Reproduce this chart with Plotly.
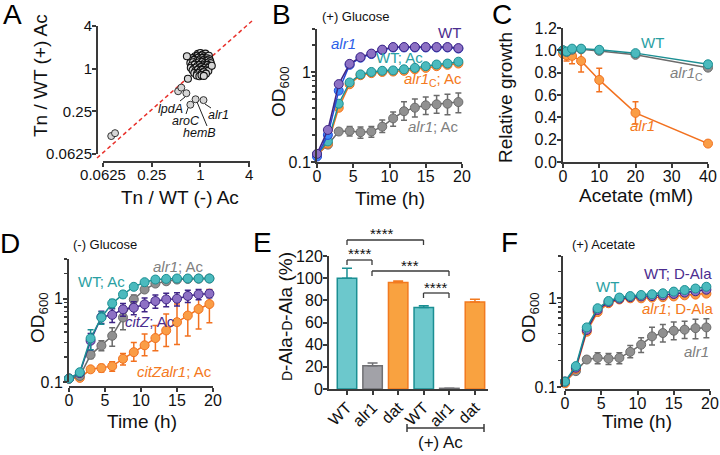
import math
import plotly.graph_objects as go

W, H = 720, 455
def PX(x): return x / W
def PY(y): return 1 - y / H

FONT = "Liberation Sans, Arial, Helvetica, sans-serif"
AXC = "#3a3a3a"

TEAL_F, TEAL_L, TEAL_T = "#4bbabe", "#1b8f93", "#2a9fa3"
PURP_F, PURP_L, PURP_T = "#8d71c4", "#3f2586", "#4b2d8f"
BLUE_F, BLUE_L, BLUE_T = "#3d8af7", "#2548d8", "#2c5ee8"
ORNG_F, ORNG_L, ORNG_T = "#fa9d46", "#f2711f", "#f47920"
GREY_F, GREY_L, GREY_T = "#909090", "#6b6b6b", "#7f7f7f"

# ---------------- data ----------------
# Panel A: Tn / WT fitness with (-) and (+) acetate
a_cluster_x = [0.93, 1.0, 1.08, 1.15,
               0.86, 0.92, 0.99, 1.05, 1.12, 1.2, 1.27,
               0.8, 0.87, 0.94, 1.01, 1.07, 1.14, 1.21, 1.29,
               0.77, 0.84, 0.9, 0.97, 1.03, 1.1, 1.17, 1.24, 1.32,
               0.75, 0.81, 0.88, 0.95, 1.01, 1.06, 1.13, 1.19, 1.26, 1.34,
               0.78, 0.85, 0.92, 0.98, 1.04, 1.11, 1.17, 1.23, 1.3,
               0.76, 0.83, 0.89, 0.96, 1.02, 1.08, 1.15, 1.21, 1.28,
               0.8, 0.87, 0.93, 1.0, 1.06, 1.12, 1.19, 1.25,
               0.84, 0.91, 0.97, 1.04, 1.1, 1.17,
               0.9, 0.97, 1.03, 1.1,
               0.68, 0.7, 1.38]
a_cluster_y = [1.62, 1.66, 1.6, 1.63,
               1.5, 1.53, 1.48, 1.54, 1.5, 1.47, 1.52,
               1.41, 1.38, 1.43, 1.39, 1.42, 1.37, 1.4, 1.36,
               1.3, 1.33, 1.28, 1.31, 1.27, 1.32, 1.29, 1.31, 1.27,
               1.2, 1.23, 1.19, 1.22, 1.18, 1.24, 1.2, 1.17, 1.22, 1.19,
               1.11, 1.14, 1.1, 1.13, 1.09, 1.12, 1.1, 1.13, 1.09,
               1.03, 1.0, 1.04, 1.01, 1.05, 1.0, 1.03, 0.99, 1.04,
               0.95, 0.93, 0.97, 0.94, 0.96, 0.92, 0.95, 0.93,
               0.87, 0.85, 0.88, 0.86, 0.89, 0.85,
               0.8, 0.78, 0.81, 0.79,
               1.5, 0.72, 1.1]
a_out_x = [0.079, 0.088, 0.53, 0.58, 0.67, 0.75, 0.87, 1.09]
a_out_y = [0.112, 0.123, 0.48, 0.54, 0.45, 0.31, 0.37, 0.36]
a_ticks = [0.0625, 0.25, 1, 4]
a_ticktext = ["0.0625", "0.25", "1", "4"]
a_genes = ["lpdA", "aroC", "hemB", "alr1"]

# Growth curves time points (h)
time_h = [0, 1.5, 3, 4.5, 6, 7.5, 9, 10.5, 12, 13.5, 15, 16.5, 18, 19.5]

# Panel B: (+) Glucose
b_wt = [0.123, 0.227, 0.733, 1.23, 1.46, 1.6, 1.77, 1.89, 1.89, 1.89, 1.89, 1.89, 1.89, 1.84]
b_alr1 = [0.115, 0.2, 0.62, 1.2, 1.44, 1.58, 1.75, 1.87, 1.87, 1.87, 1.87, 1.87, 1.87, 1.82]
b_wt_ac = [0.121, 0.169, 0.444, 0.765, 0.94, 1.0, 1.03, 1.04, 1.07, 1.11, 1.16, 1.21, 1.24, 1.3]
b_alr1c_ac = [0.118, 0.16, 0.40, 0.73, 0.92, 0.97, 1.0, 1.01, 1.03, 1.07, 1.11, 1.16, 1.2, 1.24]
b_alr1_ac = [0.121, 0.156, 0.218, 0.221, 0.214, 0.218, 0.247, 0.305, 0.366, 0.401, 0.426, 0.437, 0.444, 0.463]
b_alr1_ac_up = [0, 0.005, 0.01, 0.027, 0.03, 0.03, 0.045, 0.055, 0.1, 0.1, 0.1, 0.11, 0.12, 0.12]
b_alr1_ac_dn = [0, 0.005, 0.01, 0.027, 0.03, 0.03, 0.035, 0.055, 0.075, 0.085, 0.09, 0.09, 0.11, 0.11]

# Panel C: relative growth vs acetate
acetate_mM = [0, 1, 2.5, 5, 10, 20, 40]
c_wt = [1.0, 0.99, 1.015, 1.015, 1.005, 0.975, 0.875]
c_alr1c = [1.0, 0.985, 1.005, 1.01, 0.995, 0.96, 0.845]
c_alr1 = [0.97, 0.955, 0.95, 0.905, 0.735, 0.44, 0.165]
c_alr1_err = [0.02, 0.05, 0.07, 0.1, 0.105, 0.1, 0.01]

# Panel D: (-) Glucose, + acetate
d_wt_ac = [0.11, 0.131, 0.334, 0.595, 0.88, 1.127, 1.39, 1.58, 1.7, 1.73, 1.75, 1.75, 1.75, 1.75]
d_wt_ac_err = [0, 0.01, 0.09, 0.1, 0.1, 0.1, 0.06, 0.05, 0.04, 0.04, 0.03, 0.03, 0.03, 0.03]
d_citz_ac = [0.11, 0.128, 0.313, 0.605, 0.64, 0.746, 0.78, 0.857, 0.938, 0.982, 1.0, 1.08, 1.13, 1.15]
d_citz_ac_err = [0, 0.01, 0.07, 0.1, 0.12, 0.13, 0.14, 0.16, 0.17, 0.18, 0.18, 0.18, 0.16, 0.12]
d_alr1_ac = [0.11, 0.118, 0.212, 0.273, 0.359, 0.595, 0.98, 1.29, 1.52, 1.62, 1.7, 1.73, 1.74, 1.75]
d_alr1_ac_up = [0, 0.01, 0.02, 0.04, 0.09, 0.22, 0.13, 0.06, 0.04, 0.03, 0.02, 0.02, 0.02, 0.02]
d_alr1_ac_dn = [0, 0.01, 0.02, 0.035, 0.09, 0.17, 0.13, 0.06, 0.04, 0.03, 0.02, 0.02, 0.02, 0.02]
d_citzalr1_ac = [0.11, 0.112, 0.142, 0.147, 0.155, 0.19, 0.228, 0.276, 0.337, 0.416, 0.523, 0.628, 0.753, 0.864]
d_citzalr1_ac_up = [0, 0.005, 0.01, 0.015, 0.02, 0.03, 0.07, 0.1, 0.14, 0.24, 0.34, 0.37, 0.33, 0.43]
d_citzalr1_ac_dn = [0, 0.005, 0.01, 0.015, 0.02, 0.03, 0.05, 0.07, 0.1, 0.15, 0.24, 0.27, 0.32, 0.35]

# Panel E: D-Ala-D-Ala (%)
e_labels = ["WT", "alr1", "dat", "WT", "alr1", "dat"]
e_values = [100, 21, 96, 73.5, 0.6, 78.5]
e_err = [9, 2.5, 1.5, 1.5, 0, 2.5]
e_strain = ["WT", "alr1", "dat", "WT", "alr1", "dat"]

# Panel F: (+) Acetate
f_wt = [0.115, 0.172, 0.47, 0.773, 0.933, 1.02, 1.06, 1.09, 1.11, 1.14, 1.19, 1.24, 1.29, 1.35]
f_wt_dala = [0.115, 0.165, 0.44, 0.74, 0.91, 0.99, 1.03, 1.05, 1.06, 1.08, 1.12, 1.16, 1.2, 1.25]
f_alr1_dala = [0.11, 0.16, 0.42, 0.70, 0.88, 0.97, 1.0, 1.0, 1.02, 1.03, 1.05, 1.08, 1.1, 1.13]
f_alr1 = [0.115, 0.151, 0.204, 0.213, 0.209, 0.213, 0.249, 0.30, 0.372, 0.406, 0.431, 0.443, 0.461, 0.47]
f_alr1_up = [0, 0.005, 0.01, 0.03, 0.03, 0.03, 0.045, 0.06, 0.1, 0.1, 0.11, 0.11, 0.12, 0.12]
f_alr1_dn = [0, 0.005, 0.01, 0.03, 0.03, 0.03, 0.035, 0.055, 0.075, 0.085, 0.09, 0.09, 0.11, 0.11]

# ---------------- figure ----------------
fig = go.Figure()

def curve(x, y, xa, ya, fill, line, err_up=None, err_dn=None, size=9):
    kw = dict(x=x, y=y, mode="lines+markers", xaxis=xa, yaxis=ya,
              line=dict(color=line, width=1.5),
              marker=dict(size=size, color=fill, line=dict(color=line, width=1)),
              cliponaxis=False, showlegend=False, hoverinfo="skip")
    if err_up is not None:
        kw["error_y"] = dict(type="data", array=err_up,
                             arrayminus=err_dn if err_dn is not None else err_up,
                             symmetric=False, color=line, thickness=1.5, width=3)
    fig.add_trace(go.Scatter(**kw))

# A
fig.add_trace(go.Scatter(x=a_cluster_x, y=a_cluster_y, mode="markers", xaxis="x", yaxis="y",
                         marker=dict(size=7, color="#d6d6d6", line=dict(color="#111111", width=1.1)),
                         cliponaxis=False, showlegend=False, hoverinfo="skip"))
fig.add_trace(go.Scatter(x=a_out_x, y=a_out_y, mode="markers", xaxis="x", yaxis="y",
                         marker=dict(size=7, color="#d6d6d6", line=dict(color="#333333", width=1)),
                         cliponaxis=False, showlegend=False, hoverinfo="skip"))

# B
curve(time_h, b_alr1_ac, "x2", "y2", GREY_F, GREY_L, b_alr1_ac_up, b_alr1_ac_dn)
curve(time_h, b_alr1c_ac, "x2", "y2", ORNG_F, ORNG_L)
curve(time_h, b_wt_ac, "x2", "y2", TEAL_F, TEAL_L)
curve(time_h, b_alr1, "x2", "y2", BLUE_F, BLUE_L)
curve(time_h, b_wt, "x2", "y2", PURP_F, PURP_L)

# C
curve(acetate_mM, c_alr1, "x3", "y3", ORNG_F, ORNG_L, c_alr1_err)
curve(acetate_mM, c_alr1c, "x3", "y3", GREY_F, GREY_L)
curve(acetate_mM, c_wt, "x3", "y3", TEAL_F, TEAL_L)

# D
curve(time_h, d_citzalr1_ac, "x4", "y4", ORNG_F, ORNG_L, d_citzalr1_ac_up, d_citzalr1_ac_dn)
curve(time_h, d_alr1_ac, "x4", "y4", GREY_F, GREY_L, d_alr1_ac_up, d_alr1_ac_dn)
curve(time_h, d_citz_ac, "x4", "y4", PURP_F, PURP_L, d_citz_ac_err)
curve(time_h, d_wt_ac, "x4", "y4", TEAL_F, TEAL_L, d_wt_ac_err)

# E bars
bar_style = {"WT": ("#6cc8cc", TEAL_L),
             "alr1": ("#a2a2a8", "#707074"),
             "dat": ("#f9a240", "#f27a1f")}
for strain in ["WT", "alr1", "dat"]:
    idx = [i for i, s in enumerate(e_strain) if s == strain]
    fc, lc = bar_style[strain]
    fig.add_trace(go.Bar(x=idx, y=[e_values[i] for i in idx], xaxis="x5", yaxis="y5",
                         width=0.76, marker=dict(color=fc, line=dict(color=lc, width=1.5)),
                         error_y=dict(type="data", array=[e_err[i] for i in idx],
                                      arrayminus=[0] * len(idx), symmetric=False,
                                      color=lc, thickness=1.5, width=5),
                         showlegend=False, hoverinfo="skip"))

# F
curve(time_h, f_alr1, "x6", "y6", GREY_F, GREY_L, f_alr1_up, f_alr1_dn)
curve(time_h, f_alr1_dala, "x6", "y6", ORNG_F, ORNG_L)
curve(time_h, f_wt_dala, "x6", "y6", PURP_F, PURP_L)
curve(time_h, f_wt, "x6", "y6", TEAL_F, TEAL_L)

# ---------------- axes ----------------
def xax(**kw):
    d = dict(showline=True, linecolor=AXC, linewidth=2, ticks="outside", ticklen=4,
             tickwidth=2, tickcolor=AXC, showgrid=False, zeroline=False, automargin=False,
             ticklabelstandoff=-5,
             tickfont=dict(family=FONT, size=16, color="#111111"), fixedrange=True)
    d.update(kw)
    return d

def yax(**kw):
    d = xax(ticklabelstandoff=-3)
    d.update(kw)
    return d

log_minor = dict(tickvals=[0.2, 0.3, 0.4, 0.5, 0.6, 0.7, 0.8, 0.9, 2, 3], ticks="outside",
                 ticklen=3, tickwidth=1.5, tickcolor=AXC)
lg = math.log10
A_FONT = dict(family=FONT, size=15, color="#111")
fig.update_layout(
    template="none",
    xaxis=xax(domain=[PX(103), PX(250)], type="log", range=[lg(0.0625), lg(4) + 0.01], anchor="free",
              position=PY(161.5), tickvals=a_ticks, ticktext=a_ticktext, tickfont=A_FONT),
    yaxis=yax(domain=[PY(154), PY(26)], type="log", range=[lg(0.0625), lg(4)], anchor="free",
              position=PX(97), tickvals=a_ticks, ticktext=a_ticktext, tickfont=A_FONT),
    xaxis2=xax(domain=[PX(317), PX(462)], range=[0, 20], anchor="y2", tickvals=[0, 5, 10, 15, 20]),
    yaxis2=yax(domain=[PY(162), PY(29)], type="log", range=[-1, lg(3)], anchor="x2",
               tickvals=[0.1, 1], ticktext=["0.1", "1"], minor=log_minor),
    xaxis3=xax(domain=[PX(563), PX(708)], range=[0, 40], anchor="y3", tickvals=[0, 10, 20, 30, 40]),
    yaxis3=yax(domain=[PY(162), PY(28)], range=[0, 1.2], anchor="x3", dtick=0.2, tick0=0,
               tickformat=".1f"),
    xaxis4=xax(domain=[PX(69), PX(213)], range=[0, 20], anchor="free", position=PY(387),
               tickvals=[0, 5, 10, 15, 20]),
    yaxis4=yax(domain=[PY(382), PY(259)], type="log", range=[-1, lg(3)], anchor="x4",
               tickvals=[0.1, 1], ticktext=["0.1", "1"], minor=log_minor),
    xaxis5=xax(domain=[PX(329), PX(488)], range=[-0.703, 5.51], anchor="y5",
               tickvals=list(range(len(e_labels))), ticktext=e_labels, tickangle=-45,
               ticklabelstandoff=-3),
    yaxis5=yax(domain=[PY(389), PY(256)], range=[0, 120], anchor="x5", dtick=20, tick0=0),
    xaxis6=xax(domain=[PX(565), PX(710)], range=[0, 20], anchor="free", position=PY(390),
               tickvals=[0, 5, 10, 15, 20]),
    yaxis6=yax(domain=[PY(387), PY(256)], type="log", range=[-1, lg(3)], anchor="free",
               position=PX(562), tickvals=[0.1, 1], ticktext=["0.1", "1"], minor=log_minor),
    barmode="overlay",
)

# ---------------- annotations ----------------
ann = []
def text(x, y, s, size=15, color="#111111", angle=0, xanchor="center", yanchor="middle", pad=1):
    ann.append(dict(x=PX(x), y=PY(y), xref="paper", yref="paper", text=s, showarrow=False,
                    textangle=angle, xanchor=xanchor, yanchor=yanchor, borderpad=pad,
                    font=dict(family=FONT, size=size, color=color)))

# panel letters
for L, (x, y) in zip("ABCDEF", [(13, 14), (281, 14), (502, 14), (10, 243), (262, 242), (509, 242)]):
    text(x, y, L, size=28, color="#000000")

# axis titles
text(41, 76, "Tn / WT (+) Ac", size=19, angle=-90)
text(180, 197, "Tn / WT (-) Ac", size=19)
text(280, 92, "OD<sub>600</sub>", size=19, angle=-90)
text(390, 198, "Time (h)", size=19)
text(505, 97, "Relative growth", size=19, angle=-90)
text(636, 195, "Acetate (mM)", size=19)
text(39, 318, "OD<sub>600</sub>", size=19, angle=-90)
text(142, 421, "Time (h)", size=19)
text(285, 317, "<span style='font-size:14px'>D</span>-Ala-<span style='font-size:14px'>D</span>-Ala (%)",
     size=19, angle=-90)
text(530, 318, "OD<sub>600</sub>", size=19, angle=-90)
text(637, 421, "Time (h)", size=19)

# panel A gene labels
text(170, 109, "<i>" + a_genes[0] + "</i>", size=12.5, pad=0)
text(186, 121.5, "<i>" + a_genes[1] + "</i>", size=12.5, pad=0)
text(199, 133, "<i>" + a_genes[2] + "</i>", size=12.5, pad=0)
text(219, 115, "<i>" + a_genes[3] + "</i>", size=12.5, pad=0)

# panel B labels
text(356, 17, "(+) Glucose", size=13)
text(449, 33, "WT", size=15, color=PURP_T)
text(343, 43, "<i>alr1</i>", size=15, color=BLUE_T)
text(399, 58, "WT; Ac", size=15, color=TEAL_T)
text(433, 79, "<i>alr1</i><sub>C</sub>; Ac", size=15, color=ORNG_T)
text(433, 126, "<i>alr1</i>; Ac", size=15, color=GREY_T)

# panel C labels
text(652, 42, "WT", size=15, color=TEAL_T)
text(686, 74, "<i>alr1</i><sub>C</sub>", size=15, color=GREY_T)
text(642, 125, "<i>alr1</i>", size=15, color=ORNG_T)

# panel D labels
text(105, 244, "(-) Glucose", size=13)
text(178, 266, "<i>alr1</i>; Ac", size=15, color=GREY_T)
text(101, 281, "WT; Ac", size=15, color=TEAL_T)
text(150, 321, "<i>citZ</i>; Ac", size=15, color=PURP_T)
text(174, 371, "<i>citZalr1</i>; Ac", size=15, color=ORNG_T)

# panel F labels
text(603, 244, "(+) Acetate", size=13)
text(607, 286, "WT", size=15, color=TEAL_T)
text(678, 273, "WT; D-Ala", size=15, color=PURP_T)
text(678, 308, "<i>alr1</i>; D-Ala", size=15, color=ORNG_T)
text(696, 351, "<i>alr1</i>", size=15, color=GREY_T)

# panel E significance
text(382, 234, "****", size=15)
text(360, 253, "****", size=15)
text(410, 265, "***", size=15)
text(436, 287, "****", size=15)
text(440, 442, "(+) Ac", size=17)

fig.update_layout(annotations=ann)

# ---------------- decorative shapes ----------------
shapes = []
def seg(x0, y0, x1, y1, color=AXC, width=1.3, dash=None, layer="above"):
    d = dict(type="line", xref="paper", yref="paper", x0=PX(x0), y0=PY(y0), x1=PX(x1), y1=PY(y1),
             line=dict(color=color, width=width), layer=layer)
    if dash:
        d["line"]["dash"] = dash
    shapes.append(d)

# identity line in panel A (behind the points)
seg(97, 158, 252, 21, color="#e8302a", width=1.5, dash="4px,3px", layer="below")
# leader lines in panel A
seg(180, 101, 185, 97, color="#222", width=1)
seg(188, 108, 186, 114, color="#222", width=1)
seg(197, 102, 207, 126, color="#222", width=1)
seg(205, 104, 211, 108, color="#222", width=1)

# brackets in panel E
def bracket(xa, xb, y, drop=5):
    seg(xa, y, xb, y)
    seg(xa, y, xa, y + drop)
    seg(xb, y, xb, y + drop)

bracket(347, 423.5, 240)
bracket(347, 372, 260)
bracket(372, 449, 271)
bracket(423.5, 449, 293)
seg(407, 428, 484, 428, width=1.5)
seg(407, 424, 407, 432, width=1.5)
seg(484, 424, 484, 432, width=1.5)

fig.update_layout(shapes=shapes, width=W, height=H, margin=dict(l=0, r=0, t=0, b=0, pad=0),
                  paper_bgcolor="white", plot_bgcolor="rgba(0,0,0,0)", autosize=False,
                  font=dict(family=FONT))

fig.write_html("out.html", config={"displayModeBar": False, "staticPlot": True},
               post_script="document.body.style.margin='0';document.body.style.overflow='hidden';")
